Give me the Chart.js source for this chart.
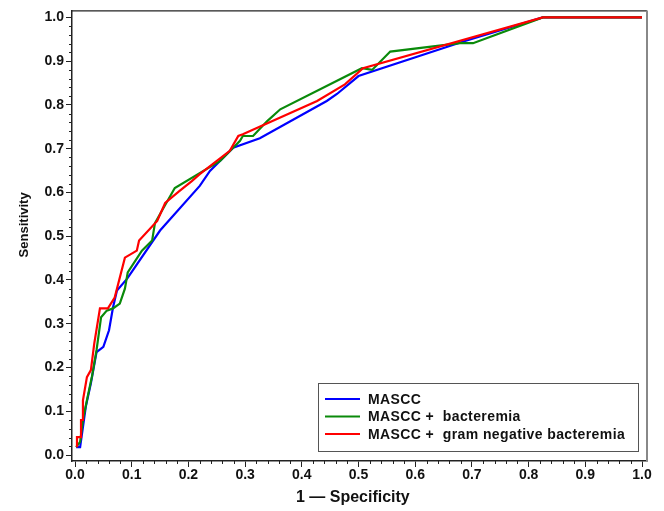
<!DOCTYPE html>
<html>
<head>
<meta charset="utf-8">
<script src="https://cdn.jsdelivr.net/npm/chart.js@4.4.1/dist/chart.umd.min.js"></script>
<style>
  html, body { margin: 0; padding: 0; background: #fff; }
  #wrap { width: 664px; height: 511px; position: relative; }
</style>
</head>
<body>
<div id="wrap"><canvas id="roc"></canvas></div>
<script>
// ROC curves, values (1 - specificity, sensitivity)
const labels = ['MASCC', 'MASCC +  bacteremia', 'MASCC +  gram negative bacteremia'];
const colors = ['#0000ff', '#0a8a0a', '#ff0000'];

const fprMascc = [0.002,0.009,0.014,0.019,0.028,0.038,0.050,0.060,0.067,0.074,0.092,0.150,0.220,0.238,0.279,0.326,0.444,0.462,0.500,0.685,0.825,1.0];
const tprMascc = [0.018,0.018,0.064,0.110,0.164,0.235,0.247,0.285,0.337,0.376,0.403,0.513,0.615,0.649,0.702,0.724,0.809,0.825,0.866,0.945,1.0,1.0];

const fprBact = [0.002,0.009,0.014,0.021,0.030,0.038,0.046,0.056,0.067,0.079,0.088,0.093,0.118,0.136,0.141,0.176,0.256,0.291,0.296,0.314,0.339,0.362,0.506,0.524,0.556,0.679,0.702,0.825,1.0];
const tprBact = [0.018,0.030,0.080,0.125,0.180,0.240,0.315,0.330,0.335,0.346,0.380,0.417,0.467,0.490,0.530,0.610,0.672,0.718,0.729,0.729,0.763,0.790,0.884,0.880,0.922,0.941,0.941,1.0,1.0];

const fprGram = [0.0035,0.0035,0.0106,0.0106,0.014,0.014,0.021,0.028,0.034,0.044,0.058,0.070,0.088,0.109,0.113,0.145,0.159,0.185,0.206,0.220,0.273,0.288,0.296,0.427,0.476,0.508,0.825,1.0];
const tprGram = [0.018,0.041,0.041,0.080,0.080,0.125,0.178,0.194,0.255,0.335,0.335,0.360,0.451,0.467,0.490,0.535,0.576,0.604,0.626,0.642,0.695,0.729,0.733,0.809,0.847,0.884,1.0,1.0];

const majorTicks = [0.0,0.1,0.2,0.3,0.4,0.5,0.6,0.7,0.8,0.9,1.0];

const pts = (xs, ys) => xs.map((x, i) => ({ x, y: ys[i] }));
const FONT = '"Liberation Sans", Arial, sans-serif';

// minor ticks every 0.02, drawn through the scales
const minorTicks = {
  id: 'minorTicks',
  afterDraw(chart) {
    const { ctx, chartArea: a, scales: { x, y } } = chart;
    ctx.save();
    ctx.strokeStyle = '#222';
    ctx.lineWidth = 1;
    ctx.beginPath();
    for (let i = 0; i <= 50; i++) {
      if (i % 5 === 0) continue;
      const px = Math.round(x.getPixelForValue(i / 50)) + 0.5;
      ctx.moveTo(px, a.bottom); ctx.lineTo(px, a.bottom + 3);
      const py = Math.round(y.getPixelForValue(i / 50)) + 0.5;
      ctx.moveTo(a.left, py); ctx.lineTo(a.left - 3, py);
    }
    ctx.stroke();
    // top + right frame
    ctx.strokeStyle = '#222';
    ctx.lineWidth = 1.2;
    ctx.beginPath();
    ctx.moveTo(a.left, a.top + 0.5); ctx.lineTo(a.right, a.top + 0.5);
    ctx.stroke();
    ctx.strokeStyle = '#888';
    ctx.lineWidth = 2;
    ctx.beginPath();
    ctx.moveTo(a.right, a.top); ctx.lineTo(a.right, a.bottom);
    ctx.stroke();
    ctx.restore();
  }
};

// boxed legend in the lower right of the plot
const boxLegend = {
  id: 'boxLegend',
  afterDraw(chart) {
    const { ctx, chartArea: a } = chart;
    const w = 320, h = 68;
    const x0 = a.right - 9 - w, y0 = a.bottom - 10 - h;
    ctx.save();
    ctx.fillStyle = '#fff';
    ctx.fillRect(x0, y0, w, h);
    ctx.strokeStyle = '#555';
    ctx.lineWidth = 1;
    ctx.strokeRect(x0 + 0.5, y0 + 0.5, w, h);
    ctx.font = 'bold 14px ' + FONT;
    ctx.letterSpacing = '0.4px';
    ctx.textBaseline = 'middle';
    chart.data.datasets.forEach((ds, i) => {
      const yy = y0 + 16 + i * 17.5;
      ctx.strokeStyle = ds.borderColor;
      ctx.lineWidth = 2;
      ctx.beginPath();
      ctx.moveTo(x0 + 7, yy); ctx.lineTo(x0 + 42, yy);
      ctx.stroke();
      ctx.fillStyle = '#111';
      ctx.fillText(ds.label, x0 + 50, yy + 1);
    });
    ctx.restore();
  }
};

const mkAxis = (title, isX) => ({
  type: 'linear',
  min: isX ? -0.0053 : -0.0137,
  max: isX ? 1.0088 : 1.016,
  afterBuildTicks: s => { s.ticks = majorTicks.map(v => ({ value: v })); },
  afterFit: s => { if (isX) s.height = 50; else s.width = 72; },
  grid: { display: true, drawOnChartArea: false, drawTicks: true, tickLength: 6, color: '#222', tickWidth: 1 },
  border: { display: true, color: '#222', width: 1.5 },
  ticks: {
    color: '#111', padding: isX ? 0 : 2,
    maxRotation: 0, autoSkip: false,
    font: { family: FONT, size: 14, weight: 'bold' },
    callback: v => Number(v).toFixed(1)
  },
  title: {
    display: true, text: title, color: '#111',
    font: { family: FONT, size: isX ? 16 : 13, weight: 'bold' },
    padding: isX ? { top: 0, bottom: 4 } : { top: 17, bottom: 0 }
  }
});

new Chart(document.getElementById('roc'), {
  type: 'line',
  data: {
    datasets: [
      { label: labels[0], data: pts(fprMascc, tprMascc), borderColor: colors[0], order: 3 },
      { label: labels[1], data: pts(fprBact, tprBact), borderColor: colors[1], order: 2 },
      { label: labels[2], data: pts(fprGram, tprGram), borderColor: colors[2], order: 1 }
    ].map(d => ({ ...d, borderWidth: 2.2, pointRadius: 0, tension: 0, fill: false }))
  },
  options: {
    responsive: true, maintainAspectRatio: false, animation: false,
    layout: { padding: { top: 9, right: 17, left: 0, bottom: 0 } },
    plugins: { legend: { display: false }, tooltip: { enabled: false } },
    scales: {
      x: mkAxis('1 \u2014 Specificity   ', true),
      y: mkAxis('      Sensitivity', false)
    }
  },
  plugins: [minorTicks, boxLegend]
});
</script>
</body>
</html>
